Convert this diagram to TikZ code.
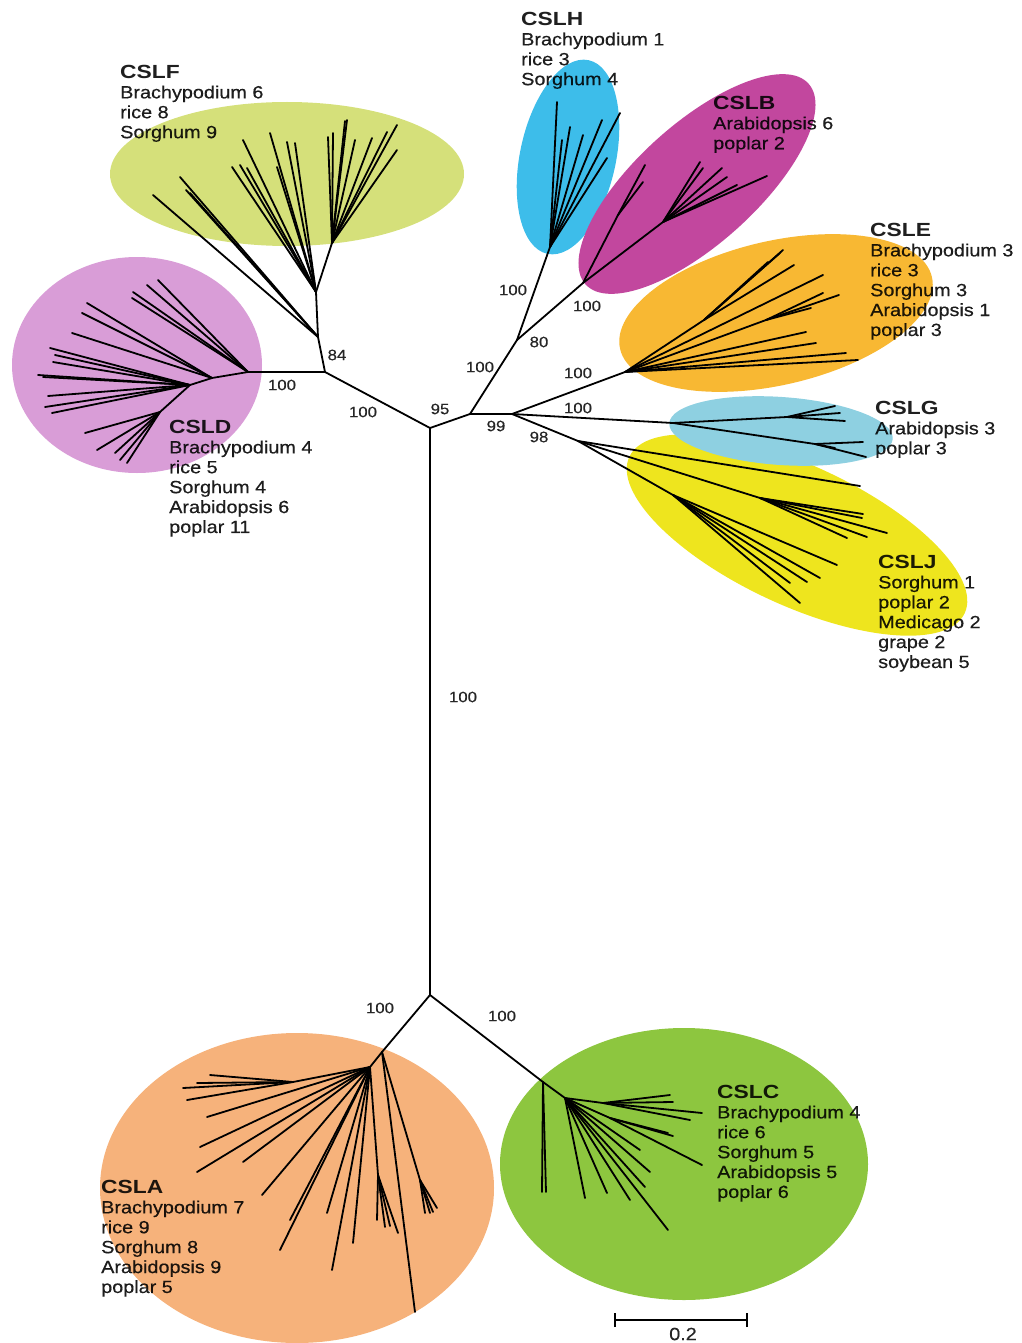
\documentclass[tikz,border=0pt]{standalone}
\usepackage{fontspec}
\setmainfont{Liberation Sans}[FakeStretch=1.12, FakeBold=0.4]
\newfontfamily\headfont{Liberation Sans}[FakeStretch=1.2]
\definecolor{cF}{HTML}{D5E07A}
\definecolor{cD}{HTML}{D99DD7}
\definecolor{cH}{HTML}{3DBDEA}
\definecolor{cB}{HTML}{C2479E}
\definecolor{cE}{HTML}{F8B833}
\definecolor{cG}{HTML}{8ED0E1}
\definecolor{cJ}{HTML}{EEE51E}
\definecolor{cA}{HTML}{F6B27B}
\definecolor{cC}{HTML}{8DC63F}
\newcommand\hd[1]{{\headfont\bfseries\fontsize{19}{19.9}\selectfont #1}}
\newcommand\treeleaves[3]{\foreach \p [count=\i] in {#3} {\draw[branch] (#1) -- \p coordinate (#2\i);}}
\tikzset{
  branch/.style={line width=1.8pt, line cap=round, line join=round, black},
  grp/.style={anchor=north west, align=left, inner sep=0pt, font=\fontsize{17.7}{19.9}\selectfont, text=black, text opacity=0.88},
  bs/.style={inner sep=0pt, font=\fontsize{15}{15}\selectfont, text=black!85},
}
\begin{document}
\begin{tikzpicture}[x=1pt,y=-1pt]
\useasboundingbox (0,0) rectangle (1021,1343);
% ---- clade backgrounds
\fill[cF] (287,174) ellipse [x radius=177, y radius=72];
\fill[cD] (137,365) ellipse [x radius=125, y radius=108];
\fill[cH, rotate around={-12:(568,157)}] (568,157) ellipse [x radius=48, y radius=99];
\fill[cB, rotate around={42:(697,184)}] (697,184) ellipse [x radius=150, y radius=60];
\fill[cE, rotate around={13:(776,313)}] (776,313) ellipse [x radius=160, y radius=72];
\fill[cJ, rotate around={-25:(797,535)}] (797,535) ellipse [x radius=185, y radius=70];
\fill[cG, rotate around={-4:(781,431)}] (781,431) ellipse [x radius=112, y radius=34];
\fill[cA] (297,1188) ellipse [x radius=197, y radius=155];
\fill[cC] (684,1164) ellipse [x radius=184, y radius=136];
% ---- backbone
\coordinate (R1) at (430,428);
\coordinate (Rb) at (430,995);
\coordinate (R2) at (470,414);
\coordinate (R3) at (512,414);
\coordinate (N84) at (325,372);
\coordinate (N80) at (517,340);
\draw[branch] (R1) -- (Rb);
\draw[branch] (R1) -- (N84);
\draw[branch] (R1) -- (R2) -- (R3);
\draw[branch] (R2) -- (N80);
% ---- CSLF
\coordinate (F1) at (318,337);
\coordinate (F2) at (316,292);
\coordinate (F3) at (332,243);
\draw[branch] (N84) -- (F1) -- (F2) -- (F3);
\treeleaves{F1}{f1}{(153,195),(180,177),(186,190),(190,193)}
\treeleaves{F2}{f2}{(243,140),(232,167),(240,165),(247,168),(270,133),(287,142),(295,143),(277,167)}
\treeleaves{F3}{f3}{(328,137),(333,133),(347,120),(355,140),(372,138),(387,132),(397,125),(397,150),(345,121)}
% ---- CSLD
\coordinate (D0) at (248,372);
\coordinate (D1) at (212,378);
\coordinate (D2) at (190,385);
\coordinate (D3) at (160,412);
\draw[branch] (N84) -- (D0) -- (D1) -- (D2) -- (D3);
\treeleaves{D0}{d0}{(158,280),(147,285),(133,292),(132,298)}
\treeleaves{D1}{d1}{(87,303),(82,313),(72,333)}
\treeleaves{D2}{d2}{(50,348),(55,355),(53,362),(38,375),(43,377),(48,396),(45,407),(52,413)}
\treeleaves{D3}{d3}{(85,433),(97,450),(115,453),(127,463),(120,460)}
% ---- CSLH
\coordinate (H0) at (550,247);
\draw[branch] (N80) -- (H0);
\treeleaves{H0}{h}{(557,102),(570,127),(583,135),(602,120),(620,113),(607,158),(562,140)}
% ---- CSLB
\coordinate (B0) at (583,283);
\coordinate (Ba) at (618,215);
\coordinate (B1) at (663,222);
\draw[branch] (N80) -- (B0) -- (B1);
\draw[branch] (B0) -- (Ba);
\treeleaves{Ba}{ba}{(645,165),(643,182)}
\treeleaves{B1}{b}{(700,162),(703,168),(722,168),(727,177),(737,185),(767,176)}
% ---- CSLE
\coordinate (E0) at (625,372);
\coordinate (E1) at (704,320);
\coordinate (E2) at (766,320);
\draw[branch] (R3) -- (E0) -- (E1);
\draw[branch] (E0) -- (E2);
\treeleaves{E1}{e1}{(783,250),(780,253),(794,265),(768,262)}
\treeleaves{E2}{e2}{(839,295),(823,293),(811,308)}
\treeleaves{E0}{e0}{(823,275),(806,332),(816,343),(846,353),(858,360)}
% ---- CSLG
\coordinate (G0) at (673,423);
\coordinate (G1) at (787,417);
\coordinate (G2) at (815,444);
\draw[branch] (R3) -- (G0) -- (G1);
\draw[branch] (G0) -- (G2);
\treeleaves{G1}{g1}{(835,406),(840,413),(845,421)}
\treeleaves{G2}{g2}{(863,442),(866,457),(835,448)}
% ---- CSLJ
\coordinate (J0) at (578,441);
\coordinate (J1) at (760,498);
\coordinate (J2) at (673,495);
\draw[branch] (R3) -- (J0) -- (J1);
\draw[branch] (J0) -- (J2);
\treeleaves{J0}{j0}{(860,486)}
\treeleaves{J1}{j1}{(862,518),(863,514),(887,533),(867,537),(847,538)}
\treeleaves{J2}{j2}{(837,565),(820,578),(807,582),(790,583),(800,603)}
% ---- CSLA
\coordinate (A0) at (382,1052);
\coordinate (Ar) at (420,1180);
\coordinate (A1) at (370,1067);
\coordinate (A2) at (293,1082);
\coordinate (A3) at (378,1175);
\draw[branch] (Rb) -- (A0) -- (A1) -- (A2);
\draw[branch] (A0) -- (Ar);
\draw[branch] (A1) -- (A3);
\treeleaves{A0}{a0}{(415,1312)}
\treeleaves{Ar}{ar}{(425,1213),(430,1213),(437,1208),(433,1212)}
\treeleaves{A2}{a2}{(210,1075),(183,1088),(197,1083),(187,1100)}
\treeleaves{A3}{a3}{(377,1220),(385,1227),(398,1233),(390,1226)}
\treeleaves{A1}{a1}{(207,1117),(200,1147),(197,1172),(243,1162),(262,1195),(290,1220),(280,1250),(327,1213),(332,1270),(353,1243)}
% ---- CSLC
\coordinate (C0) at (543,1082);
\coordinate (C1) at (565,1098);
\coordinate (C2) at (603,1103);
\coordinate (C3) at (610,1118);
\draw[branch] (Rb) -- (C0) -- (C1) -- (C2);
\draw[branch] (C1) -- (C3);
\treeleaves{C0}{c0}{(542,1192),(546,1192)}
\treeleaves{C2}{c2}{(670,1095),(673,1102),(702,1113),(690,1120)}
\treeleaves{C3}{c3}{(668,1133),(673,1136),(702,1165)}
\treeleaves{C1}{c1}{(640,1150),(650,1172),(645,1187),(585,1198),(607,1193),(630,1200),(668,1230)}
% ---- bootstrap values
\node[bs] (b84) at (337,355) {84};
\node[bs] (bD) at (282,385) {100};
\node[bs] (bL) at (363,412) {100};
\node[bs] (b95) at (440,409) {95};
\node[bs] (b99) at (496,426) {99};
\node[bs] (bU) at (480,367) {100};
\node[bs] (b80) at (539,342) {80};
\node[bs] (bH) at (513,290) {100};
\node[bs] (bB) at (587,306) {100};
\node[bs] (bE) at (578,373) {100};
\node[bs] (bG) at (578,408) {100};
\node[bs] (b98) at (539,437) {98};
\node[bs] (bV) at (463,697) {100};
\node[bs] (bA) at (380,1008) {100};
\node[bs] (bC) at (502,1016) {100};
% ---- clade labels
\node[grp] (tF) at (120,65) {\hd{CSLF}\\Brachypodium 6\\rice 8\\Sorghum 9};
\node[grp] (tH) at (521,12) {\hd{CSLH}\\Brachypodium 1\\rice 3\\Sorghum 4};
\node[grp] (tB) at (713,96) {\hd{CSLB}\\Arabidopsis 6\\poplar 2};
\node[grp] (tE) at (870,223) {\hd{CSLE}\\Brachypodium 3\\rice 3\\Sorghum 3\\Arabidopsis 1\\poplar 3};
\node[grp] (tG) at (875,401) {\hd{CSLG}\\Arabidopsis 3\\poplar 3};
\node[grp] (tJ) at (878,555) {\hd{CSLJ}\\Sorghum 1\\poplar 2\\Medicago 2\\grape 2\\soybean 5};
\node[grp] (tD) at (169,420) {\hd{CSLD}\\Brachypodium 4\\rice 5\\Sorghum 4\\Arabidopsis 6\\poplar 11};
\node[grp] (tA) at (101,1180) {\hd{CSLA}\\Brachypodium 7\\rice 9\\Sorghum 8\\Arabidopsis 9\\poplar 5};
\node[grp] (tC) at (717,1085) {\hd{CSLC}\\Brachypodium 4\\rice 6\\Sorghum 5\\Arabidopsis 5\\poplar 6};
% ---- scale bar
\coordinate (s1) at (615,1320);
\coordinate (s2) at (747,1320);
\draw[line width=1.8pt] (s1) -- (s2);
\draw[line width=1.8pt] ([yshift=-7pt]s1) -- ([yshift=7pt]s1);
\draw[line width=1.8pt] ([yshift=-7pt]s2) -- ([yshift=7pt]s2);
\node[inner sep=0pt, font=\fontsize{17.7}{19.9}\selectfont, text=black!85] (sl) at (683,1334) {0.2};
\end{tikzpicture}
\end{document}
